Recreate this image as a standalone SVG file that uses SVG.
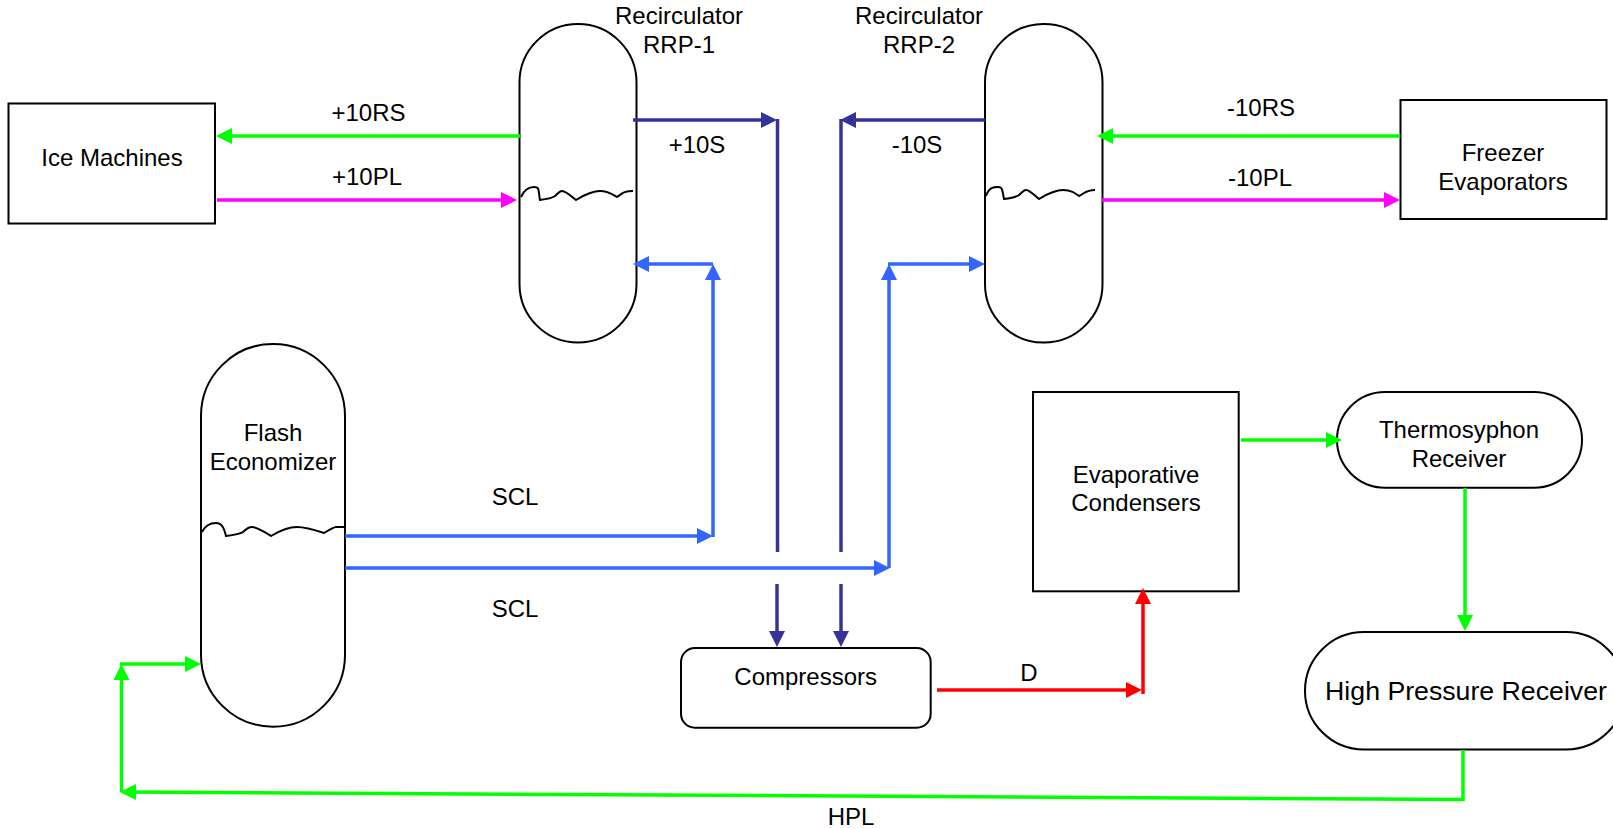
<svg xmlns="http://www.w3.org/2000/svg" width="1613" height="829" viewBox="0 0 1613 829">
<style>
text{font-family:"Liberation Sans",Arial,sans-serif;font-size:24px;fill:#000;text-anchor:middle}
.n{fill:#fff;stroke:#000;stroke-width:2}
.w{fill:none;stroke:#000;stroke-width:2}
.c{fill:none;stroke-width:3.500}
.g{stroke:#00ff00}.m{stroke:#ff00ff}.b{stroke:#3366ff}.v{stroke:#333399}.r{stroke:#ff0000}
.ag{marker-end:url(#ag)}.am{marker-end:url(#am)}.ab{marker-end:url(#ab)}.av{marker-end:url(#av)}.ar{marker-end:url(#ar)}
</style>
<defs>
<marker id="ag" markerUnits="userSpaceOnUse" markerWidth="16" markerHeight="16" refX="8" refY="8" orient="auto"><path d="M0 0L16 8L0 16Z" fill="#00ff00"/></marker>
<marker id="am" markerUnits="userSpaceOnUse" markerWidth="16" markerHeight="16" refX="8" refY="8" orient="auto"><path d="M0 0L16 8L0 16Z" fill="#ff00ff"/></marker>
<marker id="ab" markerUnits="userSpaceOnUse" markerWidth="16" markerHeight="16" refX="8" refY="8" orient="auto"><path d="M0 0L16 8L0 16Z" fill="#3366ff"/></marker>
<marker id="av" markerUnits="userSpaceOnUse" markerWidth="16" markerHeight="16" refX="8" refY="8" orient="auto"><path d="M0 0L16 8L0 16Z" fill="#333399"/></marker>
<marker id="ar" markerUnits="userSpaceOnUse" markerWidth="16" markerHeight="16" refX="8" refY="8" orient="auto"><path d="M0 0L16 8L0 16Z" fill="#ff0000"/></marker>
</defs>
<rect width="1613" height="829" fill="#fff"/>
<g id="ice-machines"><rect class="n" x="8.500" y="103.500" width="206.500" height="120"/><text x="112" y="165.500">Ice Machines</text></g>
<g id="freezer-evaporators"><rect class="n" x="1400.500" y="100" width="206" height="119"/><text x="1503" y="161">Freezer</text><text x="1503" y="190">Evaporators</text></g>
<g id="rrp-1"><rect class="n" x="519.500" y="24" width="117" height="318.500" rx="58.500" ry="58.500"/>
<path class="w" d="M521 197C525 188 530 187 534 187C540 187 538 190 540 200C548 199 552 198 555 196C559 192 561 191 562 191C566 191 572 197 576 200C585 194 595 191 600 191C608 191 612 194 617 197C622 194 623 191 633 191"/>
<text x="679" y="24">Recirculator</text><text x="679" y="53">RRP-1</text></g>
<g id="rrp-2"><rect class="n" x="985" y="24" width="117.500" height="318.500" rx="58.500" ry="58.500"/>
<path class="w" d="M986 196C989 187 994 187 998 187C1003 187 1002 190 1004 199C1012 198 1016 197 1019 195C1023 191 1025 190 1026 190C1030 190 1035 196 1039 199C1048 193 1058 190 1063 190C1071 190 1075 193 1079 196C1085 193 1086 190 1095 190"/>
<text x="919" y="24">Recirculator</text><text x="919" y="53">RRP-2</text></g>
<g id="flash-economizer"><rect class="n" x="201" y="344" width="144" height="382.700" rx="72" ry="72"/>
<path class="w" d="M202 532C206 524 212 523 216 523C222 523 224 528 226 536C234 535 240 534 243 532C247 528 250 527 252 527C257 527 266 533 271 536C281 530 291 527 297 527C305 527 318 531 324 533C329 530 334 527 336 527L344 527"/>
<text x="273" y="441">Flash</text><text x="273" y="470">Economizer</text></g>
<g id="compressors"><rect class="n" x="681" y="648" width="249.700" height="79.700" rx="14" ry="14"/><text x="805.700" y="685">Compressors</text></g>
<g id="evaporative-condensers"><rect class="n" x="1033" y="392" width="205.700" height="199.300"/><text x="1136" y="483">Evaporative</text><text x="1136" y="511">Condensers</text></g>
<g id="thermosyphon-receiver"><rect class="n" x="1337" y="392" width="245" height="95.700" rx="48" ry="48"/><text x="1459" y="438">Thermosyphon</text><text x="1459" y="466.700">Receiver</text></g>
<g id="high-pressure-receiver"><rect class="n" x="1305" y="632" width="320" height="117.500" rx="59" ry="59"/><text x="1466" y="700" style="font-size:26.700px">High Pressure Receiver</text></g>
<g id="connectors">
<path class="c g ag" d="M520 136H224"/>
<path class="c m am" d="M217 200H509"/>
<path class="c v av" d="M633 120H769"/>
<path class="c v" d="M777.500 119V552"/>
<path class="c v av" d="M777 584V639"/>
<path class="c v av" d="M985 120H848"/>
<path class="c v" d="M841 119V552"/>
<path class="c v av" d="M841 584V639"/>
<path class="c b ab" d="M713 264H641"/>
<path class="c b ab" d="M713 537V272"/>
<path class="c b ab" d="M345 536H705"/>
<path class="c b ab" d="M345 568H882"/>
<path class="c b ab" d="M889 568V272"/>
<path class="c b ab" d="M888 264H977"/>
<path class="c g ag" d="M1400 136H1105"/>
<path class="c m am" d="M1102 200H1392"/>
<path class="c g ag" d="M1241 440H1334"/>
<path class="c g ag" d="M1465 488V623"/>
<path class="c g ag" d="M1463 750V799.500L128 792"/>
<path class="c g ag" d="M121.500 792V672"/>
<path class="c g ag" d="M120 664H193"/>
<path class="c r ar" d="M937 690H1134"/>
<path class="c r ar" d="M1143 694V596"/>
</g>
<g id="labels">
<text x="368.500" y="121">+10RS</text>
<text x="367" y="185">+10PL</text>
<text x="697" y="153">+10S</text>
<text x="917" y="153">-10S</text>
<text x="1261" y="116">-10RS</text>
<text x="1260" y="186">-10PL</text>
<text x="515" y="505">SCL</text>
<text x="515" y="617">SCL</text>
<text x="1029" y="680.700">D</text>
<text x="851" y="825">HPL</text>
</g>
</svg>
